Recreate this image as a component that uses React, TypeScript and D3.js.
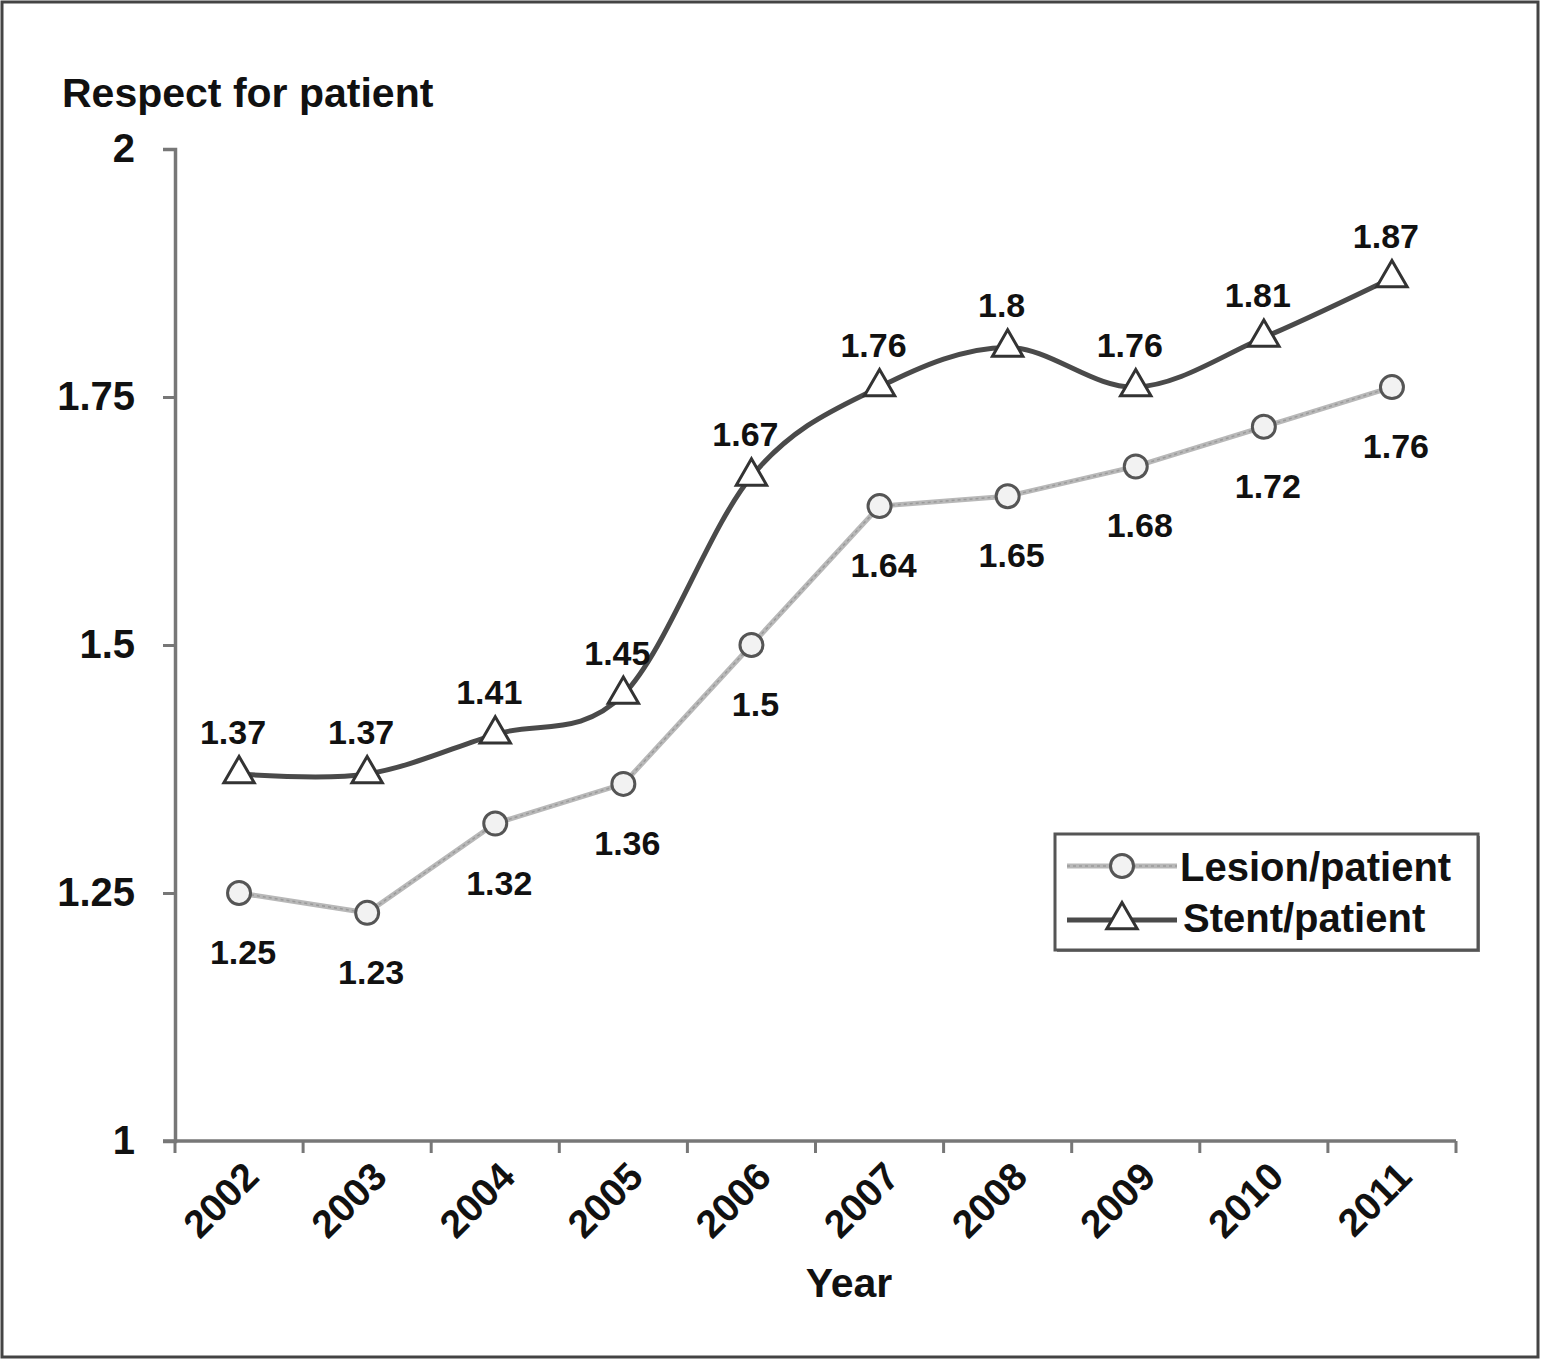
import React, { useRef, useEffect } from "react";
import * as d3 from "d3";

const years = ["2002", "2003", "2004", "2005", "2006", "2007", "2008", "2009", "2010", "2011"];
const lesionPerPatient = [1.25, 1.23, 1.32, 1.36, 1.5, 1.64, 1.65, 1.68, 1.72, 1.76];
const stentPerPatient = [1.37, 1.37, 1.41, 1.45, 1.67, 1.76, 1.8, 1.76, 1.81, 1.87];
const yTicks = [1, 1.25, 1.5, 1.75, 2];
const seriesNames = ["Lesion/patient", "Stent/patient"];

const W = 1541;
const H = 1360;
const FONT = "'Liberation Sans', Arial, Helvetica, sans-serif";

export default function App() {
  const ref = useRef<SVGSVGElement>(null);

  useEffect(() => {
    if (!ref.current) return;
    const svg = d3.select(ref.current);
    svg.selectAll("*").remove();

    const left = 175;
    const right = 1456;
    const top = 149;
    const bottom = 1141;

    const x = d3.scaleBand<string>().domain(years).range([left, right]);
    const y = d3.scaleLinear().domain([1, 2]).range([bottom, top]);
    const cx = (d: string) => (x(d) ?? 0) + x.bandwidth() / 2;

    // outer frame
    svg.append("rect")
      .attr("x", 2).attr("y", 2)
      .attr("width", W - 5).attr("height", H - 5)
      .attr("fill", "#fff")
      .attr("stroke", "#444")
      .attr("stroke-width", 3);

    // y axis
    const yAxis = svg.append("g")
      .attr("transform", `translate(${left},0)`)
      .call(d3.axisLeft(y).tickValues(yTicks).tickSize(12).tickPadding(28)
        .tickFormat(d => String(+d)));
    yAxis.select(".domain").attr("stroke", "#777").attr("stroke-width", 3.5);
    yAxis.selectAll(".tick line").attr("stroke", "#777").attr("stroke-width", 3);
    yAxis.selectAll(".tick text")
      .attr("fill", "#111")
      .style("font-family", FONT)
      .style("font-weight", "bold")
      .style("font-size", "40px");

    // x axis: ticks at band boundaries
    const xAxis = svg.append("g")
      .attr("transform", `translate(0,${bottom})`);
    xAxis.append("line")
      .attr("x1", left - 12).attr("x2", right)
      .attr("stroke", "#777").attr("stroke-width", 3.5);
    xAxis.selectAll(".xtick")
      .data(years.concat(["end"]))
      .enter()
      .append("line")
      .attr("class", "xtick")
      .attr("x1", (d, i) => left + i * x.step())
      .attr("x2", (d, i) => left + i * x.step())
      .attr("y1", 0).attr("y2", 12)
      .attr("stroke", "#777").attr("stroke-width", 3);
    xAxis.selectAll(".xlab")
      .data(years)
      .enter()
      .append("text")
      .attr("class", "xlab")
      .attr("transform", d => `translate(${cx(d) + 22},${38}) rotate(-45)`)
      .attr("text-anchor", "end")
      .attr("fill", "#111")
      .style("font-family", FONT)
      .style("font-weight", "bold")
      .style("font-size", "39px")
      .text(d => d);

    // titles
    svg.append("text")
      .attr("x", 62).attr("y", 107)
      .attr("fill", "#111")
      .style("font-family", FONT)
      .style("font-weight", "bold")
      .style("font-size", "41px")
      .text("Respect for patient");
    svg.append("text")
      .attr("x", 849).attr("y", 1297)
      .attr("text-anchor", "middle")
      .attr("fill", "#111")
      .style("font-family", FONT)
      .style("font-weight", "bold")
      .style("font-size", "41px")
      .text("Year");

    // lesion line (straight, light grey)
    const straight = d3.line<number>()
      .x((d, i) => cx(years[i]))
      .y(d => y(d));
    svg.append("path")
      .attr("d", straight(lesionPerPatient))
      .attr("fill", "none")
      .attr("stroke", "#b8b8b8")
      .attr("stroke-width", 5);
    svg.append("path")
      .attr("d", straight(lesionPerPatient))
      .attr("fill", "none")
      .attr("stroke", "#9a9a9a")
      .attr("stroke-width", 1.5)
      .attr("stroke-dasharray", "3,3");

    // stent line (smoothed, dark grey)
    const smooth = d3.line<number>()
      .x((d, i) => cx(years[i]))
      .y(d => y(d))
      .curve(d3.curveCardinal.tension(0));
    svg.append("path")
      .attr("d", smooth(stentPerPatient))
      .attr("fill", "none")
      .attr("stroke", "#4a4a4a")
      .attr("stroke-width", 5);

    const triPath = d3.symbol().type(d3.symbolTriangle).size(400)();

    // markers
    svg.selectAll(".lesion")
      .data(lesionPerPatient)
      .enter()
      .append("circle")
      .attr("class", "lesion")
      .attr("cx", (d, i) => cx(years[i]))
      .attr("cy", d => y(d))
      .attr("r", 11.5)
      .attr("fill", "#f2f2f2")
      .attr("stroke", "#555")
      .attr("stroke-width", 3);
    svg.selectAll(".stent")
      .data(stentPerPatient)
      .enter()
      .append("path")
      .attr("class", "stent")
      .attr("d", triPath)
      .attr("transform", (d, i) => `translate(${cx(years[i])},${y(d)})`)
      .attr("fill", "#fff")
      .attr("stroke", "#333")
      .attr("stroke-width", 3);

    // data labels
    svg.selectAll(".lesionLab")
      .data(lesionPerPatient)
      .enter()
      .append("text")
      .attr("class", "lesionLab")
      .attr("x", (d, i) => cx(years[i]) + 4)
      .attr("y", d => y(d) + 71)
      .attr("text-anchor", "middle")
      .attr("fill", "#111")
      .style("font-family", FONT)
      .style("font-weight", "bold")
      .style("font-size", "34px")
      .text(d => String(d));
    svg.selectAll(".stentLab")
      .data(stentPerPatient)
      .enter()
      .append("text")
      .attr("class", "stentLab")
      .attr("x", (d, i) => cx(years[i]) - 6)
      .attr("y", d => y(d) - 30)
      .attr("text-anchor", "middle")
      .attr("fill", "#111")
      .style("font-family", FONT)
      .style("font-weight", "bold")
      .style("font-size", "34px")
      .text(d => String(d));

    // legend
    const lg = svg.append("g").attr("transform", "translate(1055,834)");
    lg.append("rect")
      .attr("x", 2).attr("y", 2)
      .attr("width", 423).attr("height", 116)
      .attr("fill", "#888");
    lg.append("rect")
      .attr("width", 423).attr("height", 116)
      .attr("fill", "#fff")
      .attr("stroke", "#555")
      .attr("stroke-width", 3);
    // lesion entry
    lg.append("line")
      .attr("x1", 12).attr("x2", 122).attr("y1", 32).attr("y2", 32)
      .attr("stroke", "#b8b8b8").attr("stroke-width", 5);
    lg.append("line")
      .attr("x1", 12).attr("x2", 122).attr("y1", 32).attr("y2", 32)
      .attr("stroke", "#9a9a9a").attr("stroke-width", 1.5)
      .attr("stroke-dasharray", "3,3");
    lg.append("circle")
      .attr("cx", 67).attr("cy", 32).attr("r", 11.5)
      .attr("fill", "#f2f2f2").attr("stroke", "#555").attr("stroke-width", 3);
    lg.append("text")
      .attr("x", 125).attr("y", 47)
      .attr("fill", "#111")
      .style("font-family", FONT)
      .style("font-weight", "bold")
      .style("font-size", "40px")
      .text(seriesNames[0]);
    // stent entry
    lg.append("line")
      .attr("x1", 12).attr("x2", 122).attr("y1", 86).attr("y2", 86)
      .attr("stroke", "#4a4a4a").attr("stroke-width", 5);
    lg.append("path")
      .attr("d", triPath)
      .attr("transform", "translate(67,86)")
      .attr("fill", "#fff").attr("stroke", "#333").attr("stroke-width", 3);
    lg.append("text")
      .attr("x", 128).attr("y", 98)
      .attr("fill", "#111")
      .style("font-family", FONT)
      .style("font-weight", "bold")
      .style("font-size", "40px")
      .text(seriesNames[1]);
  }, []);

  return (
    <svg
      ref={ref}
      width={W}
      height={H}
      style={{ position: "absolute", left: 0, top: 0, background: "#fff" }}
    />
  );
}
